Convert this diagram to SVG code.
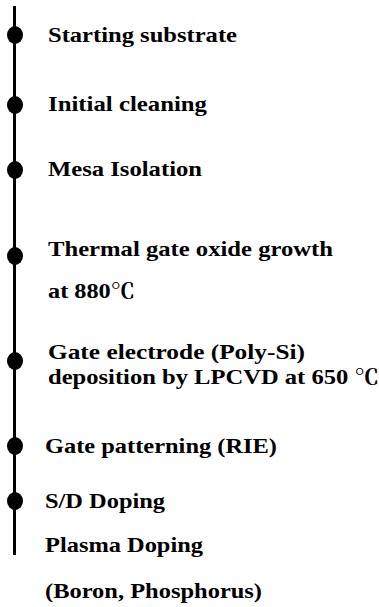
<svg xmlns="http://www.w3.org/2000/svg" width="379" height="607" viewBox="0 0 379 607">
<style>
.t{font-family:"Liberation Serif","Noto Serif CJK SC","Noto Sans CJK SC",serif;font-weight:bold;font-size:21px;fill:#000}
.dot{fill:#000}
.ln{stroke:#000;stroke-width:3;fill:none}
</style>
<rect width="379" height="607" fill="#fff"/>
<g id="connectors"><line class="ln" x1="14.5" y1="6" x2="14.5" y2="555"/></g>
<g id="n1"><ellipse class="dot" cx="15" cy="35" rx="8" ry="9"/><text class="t" x="48" y="42" textLength="189" lengthAdjust="spacingAndGlyphs">Starting substrate</text></g>
<g id="n2"><ellipse class="dot" cx="15" cy="105" rx="8" ry="9"/><text class="t" x="48" y="111" textLength="159" lengthAdjust="spacingAndGlyphs">Initial cleaning</text></g>
<g id="n3"><ellipse class="dot" cx="15" cy="170" rx="8" ry="9"/><text class="t" x="48" y="176" textLength="154" lengthAdjust="spacingAndGlyphs">Mesa Isolation</text></g>
<g id="n4"><ellipse class="dot" cx="15" cy="256" rx="8" ry="9"/><text class="t" x="48" y="256" textLength="285" lengthAdjust="spacingAndGlyphs">Thermal gate oxide growth</text><text class="t" x="48" y="298" textLength="87" lengthAdjust="spacingAndGlyphs">at 880℃</text></g>
<g id="n5"><ellipse class="dot" cx="15" cy="361" rx="8" ry="9"/><text class="t" x="48" y="359" textLength="257" lengthAdjust="spacingAndGlyphs">Gate electrode (Poly-Si)</text><text class="t" x="48" y="384" textLength="331" lengthAdjust="spacingAndGlyphs">deposition by LPCVD at 650 ℃</text></g>
<g id="n6"><ellipse class="dot" cx="15" cy="446" rx="8" ry="9"/><text class="t" x="45" y="453" textLength="232" lengthAdjust="spacingAndGlyphs">Gate patterning (RIE)</text></g>
<g id="n7"><ellipse class="dot" cx="15" cy="501" rx="8" ry="9"/><text class="t" x="45" y="508" textLength="120" lengthAdjust="spacingAndGlyphs">S/D Doping</text><text class="t" x="45" y="552" textLength="158" lengthAdjust="spacingAndGlyphs">Plasma Doping</text><text class="t" x="45" y="598" textLength="217" lengthAdjust="spacingAndGlyphs">(Boron, Phosphorus)</text></g>
</svg>
